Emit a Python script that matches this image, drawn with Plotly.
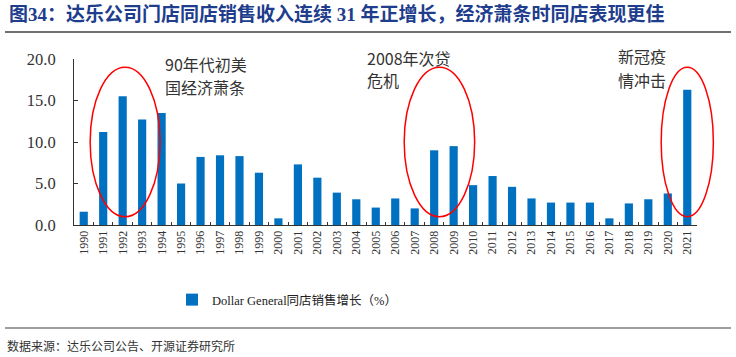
import plotly.graph_objects as go

years = [str(y) for y in range(1990, 2022)]
sss_growth = [1.6, 11.2, 15.5, 12.7, 13.5, 5.0, 8.2, 8.4, 8.3, 6.3,
              0.8, 7.3, 5.7, 3.9, 3.1, 2.1, 3.2, 2.0, 9.0, 9.5,
              4.8, 5.9, 4.6, 3.2, 2.7, 2.7, 2.7, 0.8, 2.6, 3.1,
              3.8, 16.3]
series_name = "Dollar General同店销售增长（%）"
y_ticks = [0, 5, 10, 15, 20]
y_tick_text = ["0.0", "5.0", "10.0", "15.0", "20.0"]
title_text = "图34：达乐公司门店同店销售收入连续 31 年正增长，经济萧条时同店表现更佳"
source_text = "数据来源：达乐公司公告、开源证券研究所"
note_lines = [["90年代初美", "国经济萧条"], ["2008年次贷", "危机"], ["新冠疫", "情冲击"]]
circle_first = ["1991", "2008", "2021"]
circle_last = ["1993", "2009", "2021"]

CJK = "Noto Sans CJK SC"
SERIF = "Liberation Serif"

W, H = 736, 357
AX_L, AX_R, AX_T, AX_B = 74, 697, 59, 225  # plot area in pixels
ymax = 20.0

def px_x(px):
    return px / W

def px_y(py):
    return (H - py) / H

fig = go.Figure()
fig.add_trace(go.Bar(x=years, y=sss_growth, name=series_name,
                     marker=dict(color="#0070C0", line=dict(width=0)),
                     showlegend=True))

# header / footer rules drawn on an invisible full-figure pixel overlay
rule_rows = [(32, 1.5), (328, 1.2)]
for rule_y, rule_w in rule_rows:
    fig.add_trace(go.Scatter(x=[5, 731], y=[rule_y, rule_y], mode="lines",
                             xaxis="x2", yaxis="y2", showlegend=False,
                             hoverinfo="skip", cliponaxis=False,
                             line=dict(color="#404040", width=rule_w)))

n = len(years)
dom_x0, dom_x1 = px_x(AX_L), px_x(AX_R)

def cat_paper(yr, off):
    i = years.index(yr)
    return dom_x0 + (dom_x1 - dom_x0) * (i + 0.5 + off) / n

shapes = []
circle_offsets = [(-0.67, 0.92), (-1.54, 1.08), (-1.34, 1.34)]
for a, b, (o0, o1) in zip(circle_first, circle_last, circle_offsets):
    shapes.append(dict(type="circle", xref="paper", yref="y",
                       x0=cat_paper(a, o0), x1=cat_paper(b, o1),
                       y0=1.0, y1=19.0,
                       line=dict(color="#FF0000", width=1.5)))

annotations = []
note_left = [163, 365, 616]
note_centers = [(64, 87), (58, 80), (56, 80)]
for lines, lx, centers in zip(note_lines, note_left, note_centers):
    for txt, cy in zip(lines, centers):
        annotations.append(dict(text=txt, xref="paper", yref="paper",
                                x=px_x(lx), y=px_y(cy),
                                xanchor="left", yanchor="middle", showarrow=False,
                                align="left",
                                font=dict(family=CJK, size=16, color="#333333")))
annotations.append(dict(text="<b>" + title_text + "</b>", xref="paper", yref="paper",
                        x=px_x(7), y=px_y(14),
                        xanchor="left", yanchor="middle", showarrow=False,
                        font=dict(family=SERIF + ", " + CJK, size=19, color="#203C8C")))
annotations.append(dict(text=source_text, xref="paper", yref="paper",
                        x=px_x(5), y=px_y(345),
                        xanchor="left", yanchor="middle", showarrow=False,
                        font=dict(family=CJK, size=12, color="#333333")))

fig.update_layout(
    width=W, height=H,
    margin=dict(l=0, r=0, t=0, b=0, pad=0, autoexpand=False),
    paper_bgcolor="white", plot_bgcolor="rgba(0,0,0,0)",
    bargap=0.58,
    shapes=shapes, annotations=annotations,
    legend=dict(orientation="h", x=px_x(172), y=px_y(300),
                xanchor="left", yanchor="middle",
                font=dict(family=SERIF + ", " + CJK, size=12.5, color="#222222"),
                itemwidth=30),
    xaxis=dict(type="category", domain=[dom_x0, dom_x1], automargin=False,
               showline=True, linecolor="#333333", linewidth=1,
               ticks="inside", tickson="boundaries", ticklen=3, tickcolor="#333333",
               tickangle=-90, tickfont=dict(family=SERIF, size=12, color="#333333"),
               showgrid=False, fixedrange=True),
    yaxis=dict(range=[0, ymax], domain=[px_y(AX_B), px_y(AX_T)], automargin=False,
               tickvals=y_ticks, ticktext=y_tick_text,
               showline=True, linecolor="#333333", linewidth=1,
               ticks="inside", ticklen=4, tickcolor="#333333",
               ticklabelstandoff=14,
               tickfont=dict(family=SERIF, size=16.5, color="#333333"),
               showgrid=False, zeroline=False, fixedrange=True),
    xaxis2=dict(domain=[0, 1], range=[0, W], anchor="y2", visible=False,
                fixedrange=True, automargin=False),
    yaxis2=dict(domain=[0, 1], range=[H, 0], anchor="x2", visible=False,
                fixedrange=True, automargin=False),
)

fig.write_html("out.html", config={"displayModeBar": False},
               post_script="document.body.style.margin='0';")
